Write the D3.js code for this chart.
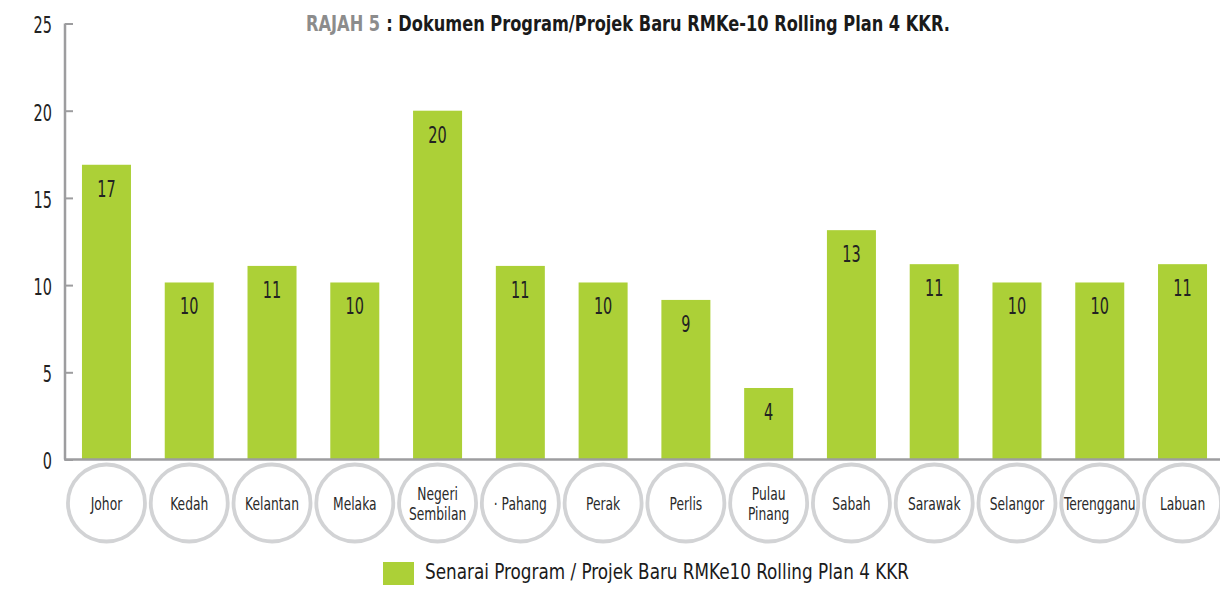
<!DOCTYPE html>
<html>
<head>
<meta charset="utf-8">
<script src="https://cdn.jsdelivr.net/npm/d3@7"></script>
<style>
  body { margin: 0; background: #fff; }
  svg text { font-family: "DejaVu Sans Condensed", "Liberation Sans Narrow", sans-serif; font-stretch: condensed; }
</style>
</head>
<body>
<div id="chart"></div>
<script>
// categories (states)
var states = ["Johor", "Kedah", "Kelantan", "Melaka", "Negeri Sembilan", "· Pahang", "Perak",
              "Perlis", "Pulau Pinang", "Sabah", "Sarawak", "Selangor", "Terengganu", "Labuan"];
// bar heights
var values = [16.9, 10.15, 11.1, 10.15, 20, 11.1, 10.15, 9.15, 4.1, 13.15, 11.2, 10.15, 10.15, 11.2];
// numbers printed in the bars
var valueLabels = [17, 10, 11, 10, 20, 11, 10, 9, 4, 13, 11, 10, 10, 11];
var yTicks = [0, 5, 10, 15, 20, 25];
var titleLead = "RAJAH 5";
var titleRest = ": Dokumen Program/Projek Baru RMKe-10 Rolling Plan 4 KKR.";
var seriesName = "Senarai Program / Projek Baru RMKe10 Rolling Plan 4 KKR";

var W = 1220, H = 590;
var svg = d3.select("#chart").append("svg")
  .attr("width", W).attr("height", H);

// squeeze text horizontally (around its x) to mimic the condensed face of the original
function condense(sel, k) {
  sel.each(function() {
    var x0 = +this.getAttribute("x") || 0;
    d3.select(this).attr("transform",
      "translate(" + x0 + ",0) scale(" + k + ",1) translate(" + (-x0) + ",0)");
  });
}

var x = d3.scaleBand()
  .domain(states)
  .range([65, 1224])
  .paddingInner(0.408)
  .paddingOuter(0.205);

var y = d3.scaleLinear()
  .domain([0, 25])
  .range([459.5, 23.5]);

// title, two pieces in two colours
var t1 = svg.append("text")
  .attr("x", 306).attr("y", 31)
  .attr("fill", "#8c8c8c")
  .style("font-size", "22px")
  .style("font-weight", "bold")
  .text(titleLead)
  .call(condense, 0.82);
var t1end = 306 + t1.node().getComputedTextLength() * 0.82;
svg.append("text")
  .attr("x", t1end + 6).attr("y", 31)
  .attr("fill", "#1a1a1a")
  .style("font-size", "22px")
  .style("font-weight", "bold")
  .text(titleRest)
  .call(condense, 0.82);

// bars
svg.append("g").selectAll("rect")
  .data(values).enter()
  .append("rect")
  .attr("x", function(d, i) { return x(states[i]); })
  .attr("y", function(d) { return y(d); })
  .attr("width", x.bandwidth())
  .attr("height", function(d) { return y(0) - y(d); })
  .attr("fill", "#acd037");

// value labels
svg.append("g").selectAll("text")
  .data(values).enter()
  .append("text")
  .attr("x", function(d, i) { return x(states[i]) + x.bandwidth() / 2; })
  .attr("y", function(d) { return y(d) + 32; })
  .attr("text-anchor", "middle")
  .attr("fill", "#222")
  .style("font-size", "23px")
  .text(function(d, i) { return valueLabels[i]; })
  .call(condense, 0.7);

// y axis
var yAxis = svg.append("g")
  .attr("transform", "translate(65,0)")
  .call(d3.axisRight(y).tickValues(yTicks).tickSize(8).tickFormat(""));
yAxis.select(".domain").remove();
yAxis.selectAll(".tick line").attr("stroke", "#9d9d9f").attr("stroke-width", 2);
svg.append("line")
  .attr("x1", 65).attr("x2", 65)
  .attr("y1", y(25)).attr("y2", y(0))
  .attr("stroke", "#9d9d9f").attr("stroke-width", 2.5);

svg.append("g").selectAll("text")
  .data(yTicks).enter()
  .append("text")
  .attr("x", 52)
  .attr("y", function(d) { return y(d) + 10; })
  .attr("text-anchor", "end")
  .attr("fill", "#222")
  .style("font-size", "23px")
  .text(function(d) { return d; })
  .call(condense, 0.7);

// x axis baseline
svg.append("line")
  .attr("x1", 64).attr("x2", W)
  .attr("y1", y(0)).attr("y2", y(0))
  .attr("stroke", "#9d9d9f").attr("stroke-width", 2.5);

// category circles
var cats = svg.append("g").selectAll("g")
  .data(states).enter()
  .append("g")
  .attr("transform", function(d) { return "translate(" + (x(d) + x.bandwidth() / 2) + ",503)"; });

cats.append("circle")
  .attr("r", 38.5)
  .attr("fill", "#fff")
  .attr("stroke", "#d2d3d5")
  .attr("stroke-width", 3.8);

cats.each(function(d) {
  var lines = d.split(" ");
  if (d.charAt(0) === "·") lines = [d];
  var t = d3.select(this).append("text")
    .attr("text-anchor", "middle")
    .attr("fill", "#2a2a2a")
    .style("font-size", "18px");
  lines.forEach(function(l, j) {
    t.append("tspan")
      .attr("x", 0)
      .attr("y", (j - (lines.length - 1) / 2) * 20 + 7)
      .text(l);
  });
  condense(t, 0.76);
});

// legend
svg.append("rect")
  .attr("x", 383).attr("y", 562)
  .attr("width", 31).attr("height", 23)
  .attr("fill", "#acd037");
svg.append("text")
  .attr("x", 425).attr("y", 579)
  .attr("fill", "#1a1a1a")
  .style("font-size", "22px")
  .text(seriesName)
  .call(condense, 0.85);
</script>
</body>
</html>
